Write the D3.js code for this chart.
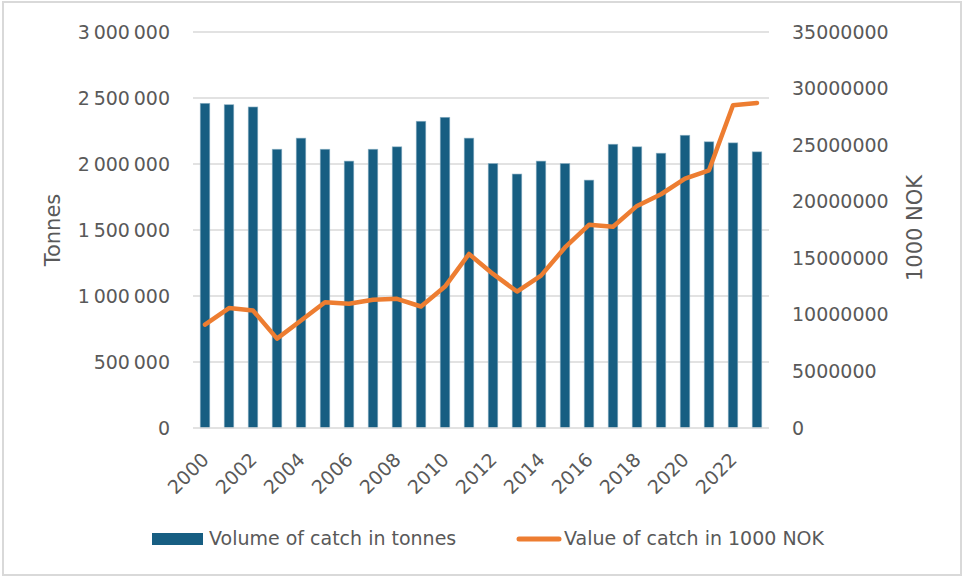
<!DOCTYPE html>
<html><head><meta charset="utf-8">
<script src="https://cdn.jsdelivr.net/npm/d3@7"></script>
<style>body{margin:0;background:#fff}svg{display:block}</style>
</head><body>
<svg id="chart" width="963" height="577"></svg>
<script>
const years = [2000,2001,2002,2003,2004,2005,2006,2007,2008,2009,2010,2011,2012,2013,2014,2015,2016,2017,2018,2019,2020,2021,2022,2023];
const volumeTonnes = [2460000,2449000,2432000,2112000,2196000,2112000,2022000,2112000,2130000,2324000,2354000,2196000,2004000,1924000,2022000,2004000,1878000,2150000,2130000,2082000,2218000,2168000,2160000,2092000];
const valueNOK = [9130000,10600000,10390000,7900000,9500000,11120000,10980000,11330000,11420000,10740000,12500000,15380000,13620000,12060000,13470000,15960000,17960000,17790000,19630000,20660000,22040000,22780000,28530000,28730000];
const leftTicks = [0,500000,1000000,1500000,2000000,2500000,3000000];
const rightTicks = [0,5000000,10000000,15000000,20000000,25000000,30000000,35000000];
const xTickYears = [2000,2002,2004,2006,2008,2010,2012,2014,2016,2018,2020,2022];
const seriesNames = ["Volume of catch in tonnes","Value of catch in 1000 NOK"];
const axisTitles = ["Tonnes","1000 NOK"];

const W=963,H=577;
const m={left:193,right:769,top:32,bottom:428};
const font="'DejaVu Sans', sans-serif";
const txt="#595959", grid="#d9d9d9", barC="#175e82", lineC="#ed7d31";
const svg=d3.select("#chart");
svg.append("rect").attr("x",3).attr("y",2).attr("width",W-5).attr("height",H-4)
  .attr("fill","#fff").attr("stroke",grid).attr("stroke-width",2);

const x=d3.scaleBand().domain(years).range([m.left,m.right]).paddingInner(0.6).paddingOuter(0.3);
const yL=d3.scaleLinear().domain([0,3000000]).range([m.bottom,m.top]);
const yR=d3.scaleLinear().domain([0,35000000]).range([m.bottom,m.top]);
const loc=d3.formatLocale({thousands:"\u2009",grouping:[3],decimal:","});
const fL=loc.format(",d");

// gridlines
svg.append("g").selectAll("line").data(leftTicks.filter(d=>d>0)).join("line")
  .attr("x1",m.left).attr("x2",m.right).attr("y1",d=>yL(d)).attr("y2",d=>yL(d))
  .attr("stroke",grid).attr("stroke-width",1.3);

// left axis
const gL=svg.append("g").attr("transform",`translate(${m.left},0)`)
  .call(d3.axisLeft(yL).tickValues(leftTicks).tickFormat(fL).tickSize(0).tickPadding(23));
gL.select(".domain").remove();
gL.selectAll("text").attr("fill",txt).attr("font-family",font).attr("font-size",19);

// right axis
const gR=svg.append("g").attr("transform",`translate(${m.right},0)`)
  .call(d3.axisRight(yR).tickValues(rightTicks).tickFormat(d3.format("d")).tickSize(0).tickPadding(23));
gR.select(".domain").remove();
gR.selectAll("text").attr("fill",txt).attr("font-family",font).attr("font-size",19);

// bars
svg.append("g").selectAll("rect").data(years).join("rect")
  .attr("x",d=>x(d)).attr("width",x.bandwidth())
  .attr("y",(d,i)=>yL(volumeTonnes[i])).attr("height",(d,i)=>yL(0)-yL(volumeTonnes[i]))
  .attr("fill",barC).attr("stroke","#8fb3c6").attr("stroke-width",0.6);

// baseline
svg.append("line").attr("x1",m.left).attr("x2",m.right).attr("y1",m.bottom).attr("y2",m.bottom)
  .attr("stroke",grid).attr("stroke-width",1.5);

// line
const line=d3.line().x((d,i)=>x(years[i])+x.bandwidth()/2).y(d=>yR(d));
svg.append("path").datum(valueNOK).attr("d",line).attr("fill","none")
  .attr("stroke",lineC).attr("stroke-width",4.5).attr("stroke-linejoin","round").attr("stroke-linecap","round");

// x axis labels
const gX=svg.append("g").attr("transform",`translate(0,${m.bottom})`)
  .call(d3.axisBottom(x).tickValues(xTickYears).tickSize(0).tickPadding(0));
gX.select(".domain").remove();
gX.selectAll("text").attr("fill",txt).attr("font-family",font).attr("font-size",19)
  .attr("text-anchor","end").attr("y",0).attr("dy",0)
  .attr("transform","translate(5,33) rotate(-45)");

// axis titles
svg.append("text").attr("transform","translate(60,230) rotate(-90)").attr("text-anchor","middle")
  .attr("fill",txt).attr("font-family",font).attr("font-size",21).text(axisTitles[0]);
svg.append("text").attr("transform","translate(922,228) rotate(-90)").attr("text-anchor","middle")
  .attr("fill",txt).attr("font-family",font).attr("font-size",21).text(axisTitles[1]);

// legend
const lg=svg.append("g");
lg.append("rect").attr("x",152).attr("y",533).attr("width",51).attr("height",12).attr("fill",barC);
lg.append("text").attr("x",209).attr("y",545).attr("fill",txt).attr("font-family",font).attr("font-size",19).text(seriesNames[0]);
lg.append("line").attr("x1",519).attr("x2",559).attr("y1",539).attr("y2",539)
  .attr("stroke",lineC).attr("stroke-width",5).attr("stroke-linecap","round");
lg.append("text").attr("x",564).attr("y",545).attr("fill",txt).attr("font-family",font).attr("font-size",19).text(seriesNames[1]);
</script>
</body></html>
